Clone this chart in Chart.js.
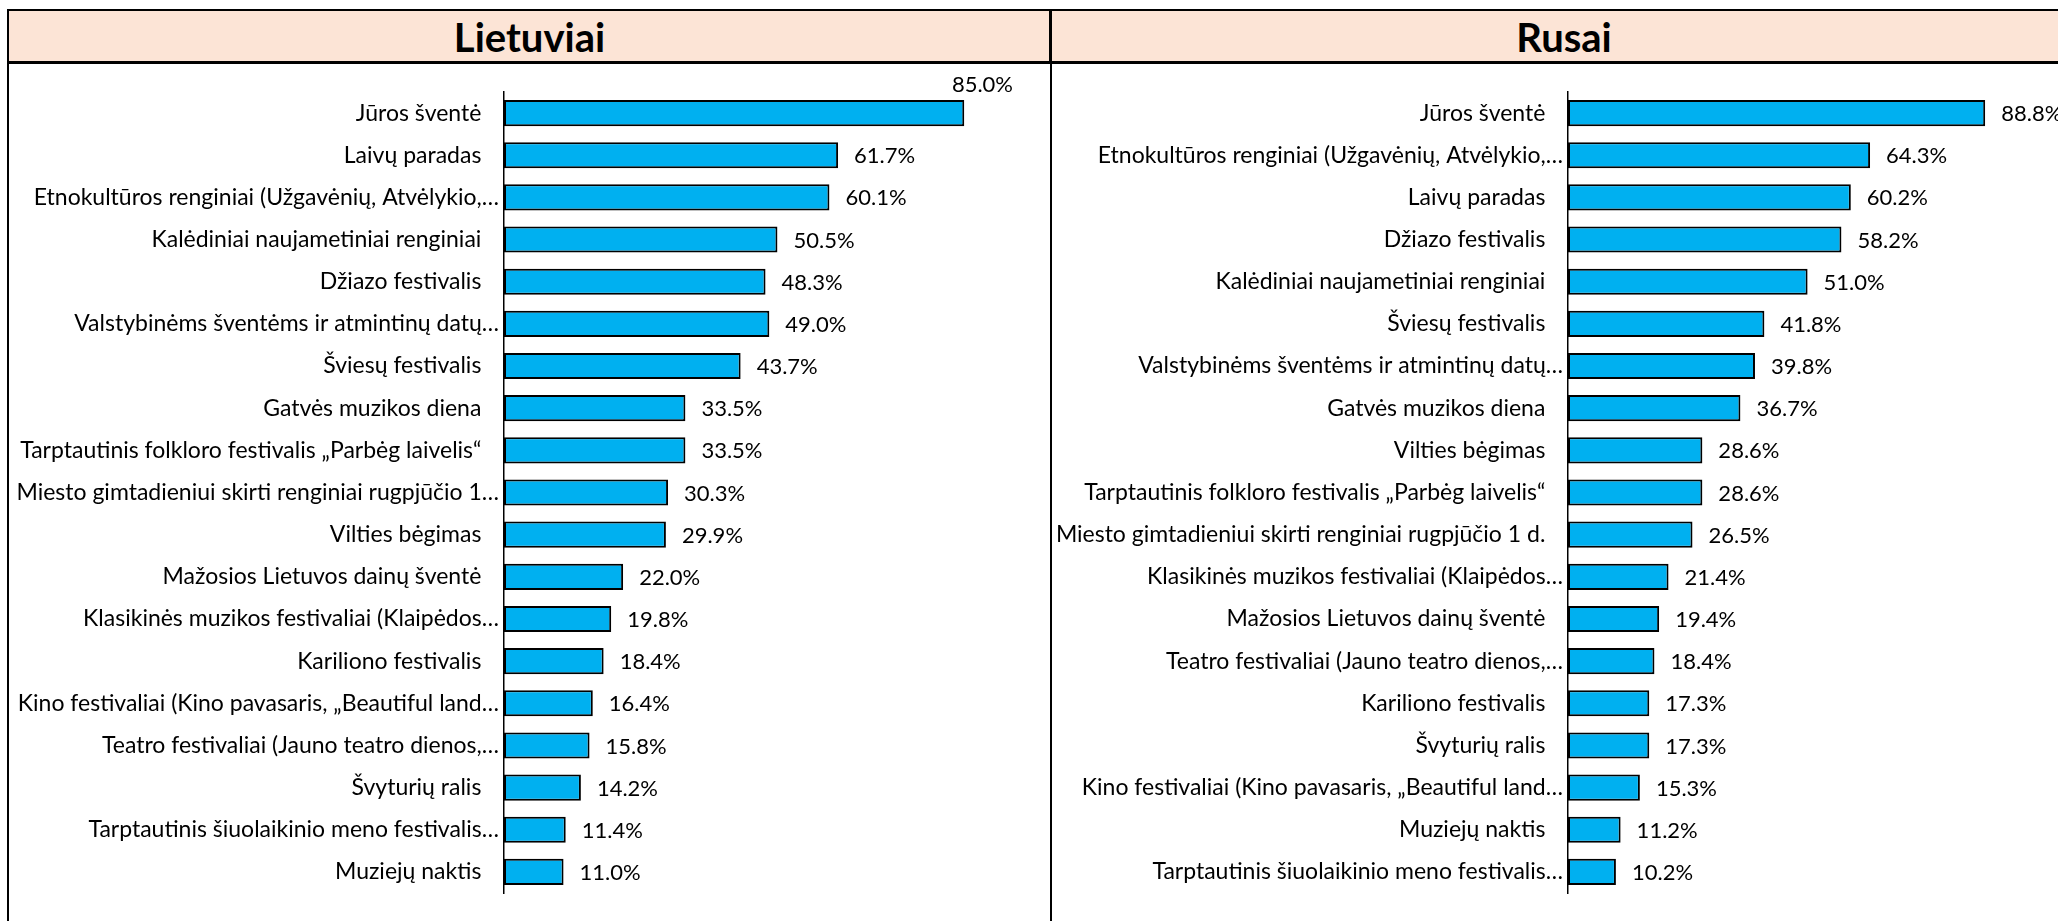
<!DOCTYPE html>
<html>
<head>
<meta charset="utf-8">
<script src="https://cdn.jsdelivr.net/npm/chart.js@4.4.1/dist/chart.umd.min.js"></script>
<style>
  html, body { margin: 0; padding: 0; background: #fff; overflow: hidden; }
  body { width: 2058px; height: 921px; position: relative; }
  #frame {
    position: absolute; left: 7px; top: 9px; width: 2070px; height: 960px;
    border: 2px solid #000; box-sizing: border-box;
  }
  .head {
    position: absolute; top: 11px; height: 51px; background: #fce4d6;
    font-family: Lato, "Open Sans", sans-serif; font-weight: bold; font-size: 40px;
    color: #000; display: flex; align-items: center; justify-content: center;
  }
  #head-left { left: 9px; width: 1041px; }
  #head-right { left: 1052px; width: 1024px; }
  #head-line { position: absolute; left: 9px; top: 61px; width: 2060px; height: 3px; background: #000; }
  #head-div { position: absolute; left: 1049px; top: 11px; width: 3px; height: 51px; background: #000; }
  #body-div { position: absolute; left: 1050px; top: 64px; width: 1.5px; height: 900px; background: #000; }
  .box { position: absolute; top: 64px; height: 857px; }
  #box-left { left: 9px; width: 1040px; }
  #box-right { left: 1052px; width: 1014px; }
</style>
</head>
<body>
<div id="frame"></div>
<div class="head" id="head-left">Lietuviai</div>
<div class="head" id="head-right">Rusai</div>
<div id="head-div"></div>
<div id="head-line"></div>
<div id="body-div"></div>
<div class="box" id="box-left"><canvas id="chart-left"></canvas></div>
<div class="box" id="box-right"><canvas id="chart-right"></canvas></div>

<script>
const lietuviaiLabels = [
  "Jūros šventė",
  "Laivų paradas",
  "Etnokultūros renginiai (Užgavėnių, Atvėlykio,…",
  "Kalėdiniai naujametiniai renginiai",
  "Džiazo festivalis",
  "Valstybinėms šventėms ir atmintinų datų…",
  "Šviesų festivalis",
  "Gatvės muzikos diena",
  "Tarptautinis folkloro festivalis „Parbėg laivelis“",
  "Miesto gimtadieniui skirti renginiai rugpjūčio 1…",
  "Vilties bėgimas",
  "Mažosios Lietuvos dainų šventė",
  "Klasikinės muzikos festivaliai (Klaipėdos…",
  "Kariliono festivalis",
  "Kino festivaliai (Kino pavasaris, „Beautiful land…",
  "Teatro festivaliai (Jauno teatro dienos,…",
  "Švyturių ralis",
  "Tarptautinis šiuolaikinio meno festivalis…",
  "Muziejų naktis",
];
const lietuviaiValues = [
  85.0, 61.7, 60.1, 50.5, 48.3, 49.0, 43.7, 33.5, 33.5, 30.3,
  29.9, 22.0, 19.8, 18.4, 16.4, 15.8, 14.2, 11.4, 11.0,
];

const rusaiLabels = [
  "Jūros šventė",
  "Etnokultūros renginiai (Užgavėnių, Atvėlykio,…",
  "Laivų paradas",
  "Džiazo festivalis",
  "Kalėdiniai naujametiniai renginiai",
  "Šviesų festivalis",
  "Valstybinėms šventėms ir atmintinų datų…",
  "Gatvės muzikos diena",
  "Vilties bėgimas",
  "Tarptautinis folkloro festivalis „Parbėg laivelis“",
  "Miesto gimtadieniui skirti renginiai rugpjūčio 1 d.",
  "Klasikinės muzikos festivaliai (Klaipėdos…",
  "Mažosios Lietuvos dainų šventė",
  "Teatro festivaliai (Jauno teatro dienos,…",
  "Kariliono festivalis",
  "Švyturių ralis",
  "Kino festivaliai (Kino pavasaris, „Beautiful land…",
  "Muziejų naktis",
  "Tarptautinis šiuolaikinio meno festivalis…",
];
const rusaiValues = [
  88.8, 64.3, 60.2, 58.2, 51.0, 41.8, 39.8, 36.7, 28.6, 28.6,
  26.5, 21.4, 19.4, 18.4, 17.3, 17.3, 15.3, 11.2, 10.2,
];

const fontFamily = 'Lato, "Open Sans", sans-serif';
const labelSize = 23;
const valueSize = 22;

function formatPercent(value) {
  return value.toFixed(1) + "%";
}

// value labels next to each bar (above the bar if it does not fit)
const valueLabelsPlugin = {
  id: "valueLabels",
  afterDatasetsDraw(chart) {
    const { ctx, chartArea } = chart;
    const meta = chart.getDatasetMeta(0);
    const values = chart.data.datasets[0].data;
    ctx.save();
    ctx.font = valueSize + "px " + fontFamily;
    ctx.fillStyle = "#000";
    ctx.textBaseline = "middle";
    meta.data.forEach((bar, i) => {
      const text = formatPercent(values[i]);
      const w = ctx.measureText(text).width;
      if (bar.x + 16 + w > chartArea.right + 4) {
        ctx.textAlign = "right";
        ctx.fillText(text, chartArea.right, bar.y - bar.height / 2 - 15);
      } else {
        ctx.textAlign = "left";
        ctx.fillText(text, bar.x + 16, bar.y + 1);
      }
    });
    ctx.restore();
  },
};

function makeChart(canvasId, labels, values, axisWidth, maxValue, rightPad) {
  return new Chart(document.getElementById(canvasId), {
    type: "bar",
    data: {
      labels: labels,
      datasets: [
        {
          data: values,
          backgroundColor: "#00b0f0",
          borderColor: "#000",
          borderWidth: 2,
          borderSkipped: false,
          barPercentage: 0.62,
          categoryPercentage: 1,
        },
      ],
    },
    options: {
      indexAxis: "y",
      responsive: true,
      maintainAspectRatio: false,
      animation: false,
      layout: { padding: { top: 28, bottom: 28, left: 0, right: rightPad } },
      plugins: { legend: { display: false }, tooltip: { enabled: false } },
      scales: {
        x: { display: false, min: 0, max: maxValue },
        y: {
          grid: { display: false, drawTicks: false },
          border: { display: true, color: "#000", width: 1.5 },
          afterFit: (scale) => {
            scale.width = axisWidth;
          },
          ticks: {
            color: "#000",
            padding: 5,
            font: { family: fontFamily, size: labelSize },
            callback: function (value) {
              const label = this.getLabelForValue(value);
              return label.endsWith("…") ? label : label + "\u00a0\u00a0\u00a0";
            },
          },
        },
      },
    },
    plugins: [valueLabelsPlugin],
  });
}

makeChart("chart-left", lietuviaiLabels, lietuviaiValues, 495, 94, 36);
makeChart("chart-right", rusaiLabels, rusaiValues, 516, 106, 0);
</script>
</body>
</html>
